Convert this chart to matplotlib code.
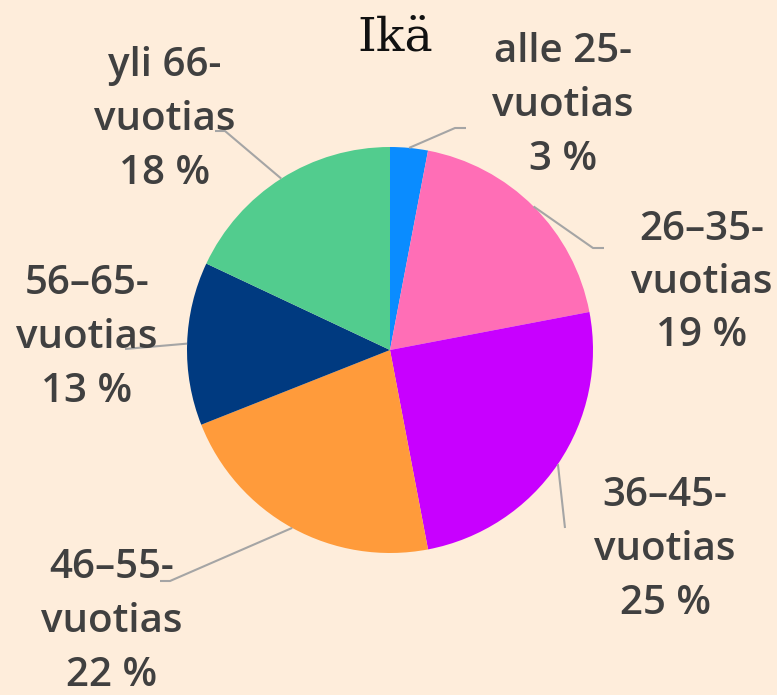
import numpy as np
import matplotlib
matplotlib.use('Agg')
import matplotlib.pyplot as plt

# --- data ---
groups = ['alle 25-\nvuotias', '26\u201335-\nvuotias', '36\u201345-\nvuotias',
          '46\u201355-\nvuotias', '56\u201365-\nvuotias', 'yli 66-\nvuotias']
shares = [3, 19, 25, 22, 13, 18]
colors = ['#0A8CFF', '#FF6EB6', '#C800FF', '#FF9B3B', '#003A80', '#52CC8E']

# label layout in pixel space (x, y from top), and leader bends
label_pos = [(563, 106), (702, 283), (665, 550), (112, 622), (87, 338), (165, 120)]
leader_mid = [(455, 128), (593, 248), (565, 528), (170, 581), (125, 349), (225, 131)]
leader_end = [(466, 128), (604, 248), (565, 528), (160, 581), (125, 349), (215, 131)]

W, H = 777, 695
bg = '#FEEDDB'
txt = '#404040'

fig = plt.figure(figsize=(W / 100, H / 100), dpi=100)
fig.patch.set_facecolor(bg)
ax = fig.add_axes([0, 0, 1, 1])
ax.set_facecolor(bg)

cx, cy, r = 390, H - 350, 203
wedges, _ = ax.pie(shares, colors=colors, startangle=90, counterclock=False,
                   center=(cx, cy), radius=r,
                   wedgeprops=dict(linewidth=0))

ax.set_xlim(0, W)
ax.set_ylim(0, H)
ax.set_aspect('equal')
ax.axis('off')

for w, lab, val, (lx, ly), (mx, my), (ex, ey) in zip(
        wedges, groups, shares, label_pos, leader_mid, leader_end):
    ang = np.deg2rad((w.theta1 + w.theta2) / 2)
    sx, sy = cx + r * np.cos(ang), cy + r * np.sin(ang)
    ax.plot([sx, mx, ex], [sy, H - my, H - ey], color='#A5A5A5', lw=1.5,
            solid_capstyle='butt', zorder=1)
    ax.text(lx, H - ly, f'{lab}\n{val} %', ha='center', va='center',
            fontsize=29, fontfamily='Open Sans', fontweight='semibold',
            color=txt, linespacing=1.45, zorder=3)

ax.text(W / 2 + 7, H - 38, 'Ik\u00e4', ha='center', va='center',
        fontsize=34, fontfamily='DejaVu Serif', color='#111111')

fig.savefig('out.png', dpi=100, facecolor=bg)
